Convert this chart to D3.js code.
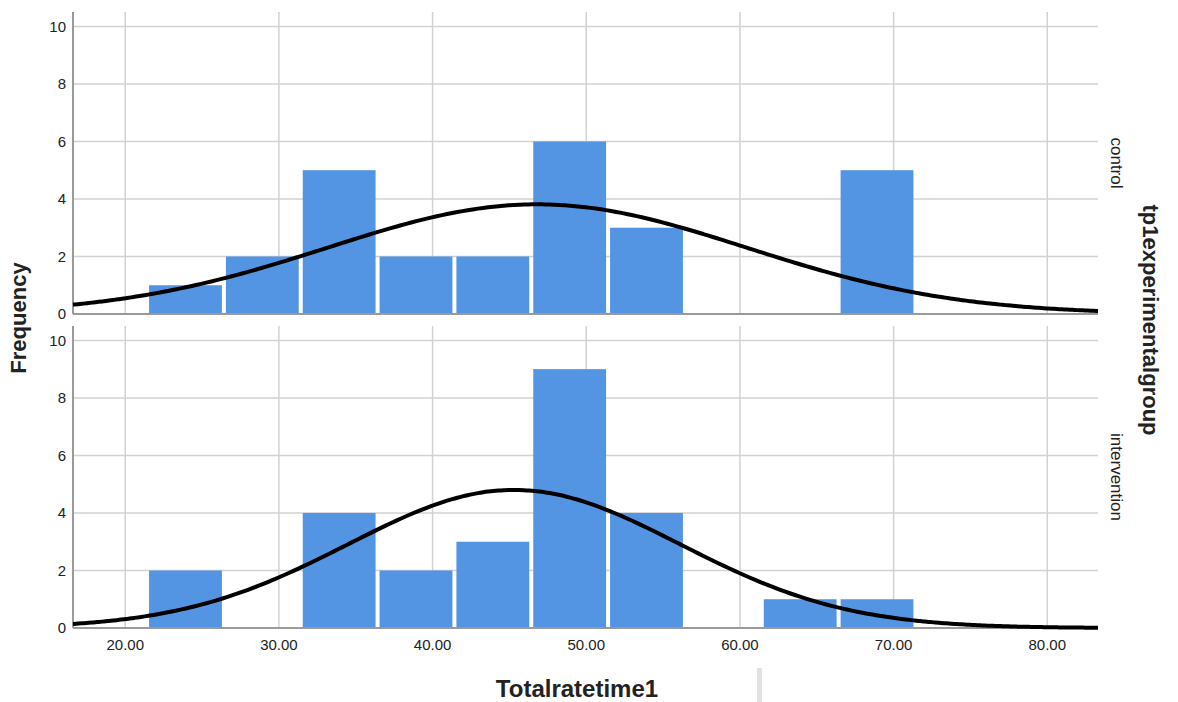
<!DOCTYPE html>
<html>
<head>
<meta charset="utf-8">
<script src="https://cdn.jsdelivr.net/npm/d3@7"></script>
<style>
  html, body { margin: 0; padding: 0; background: #ffffff; }
  svg { display: block; }
  text { font-family: Arial, "Liberation Sans", sans-serif; fill: #222; }
</style>
</head>
<body>
<svg id="chart" width="1178" height="702"></svg>
<script>
// Histogram of Totalratetime1, split by tp1experimentalgroup
const groups = ["control", "intervention"];
const binStart = 21.55;
const binWidth = 5;
const controlCounts      = [1, 2, 5, 2, 2, 6, 3, 0, 0, 5];
const interventionCounts = [2, 0, 4, 2, 3, 9, 4, 0, 1, 1];
// fitted normal curve parameters (mean, sd, N)
const controlFit      = { mean: 46.8, sd: 13.6, n: 26 };
const interventionFit = { mean: 45.3, sd: 10.8, n: 26 };
const xTicks = [20, 30, 40, 50, 60, 70, 80];
const yTicks = [0, 2, 4, 6, 8, 10];

const countsByGroup = [controlCounts, interventionCounts];
const fitsByGroup = [controlFit, interventionFit];

const svg = d3.select("#chart");
const left = 73, right = 1098;
const panels = [
  { top: 12, bottom: 314 },
  { top: 326, bottom: 628 }
];

const x = d3.scaleLinear().domain([16.6, 83.3]).range([left, right]);
const barColor = "#5395e3";
const gridColor = "#d2d2d2";
const axisColor = "#9a9a9a";

panels.forEach((p, gi) => {
  const y = d3.scaleLinear().domain([0, 10.5]).range([p.bottom, p.top]);
  const g = svg.append("g");

  // horizontal grid
  g.selectAll("line.hgrid").data(yTicks.filter(t => t > 0)).join("line")
    .attr("x1", left).attr("x2", right)
    .attr("y1", d => y(d)).attr("y2", d => y(d))
    .attr("stroke", gridColor).attr("stroke-width", 1.5);

  // vertical grid
  g.selectAll("line.vgrid").data(xTicks).join("line")
    .attr("x1", d => x(d)).attr("x2", d => x(d))
    .attr("y1", p.top).attr("y2", p.bottom)
    .attr("stroke", gridColor).attr("stroke-width", 1.5);

  // bars
  const counts = countsByGroup[gi];
  const bins = counts.map((c, i) => ({ lo: binStart + i * binWidth, hi: binStart + (i + 1) * binWidth, c }));
  g.selectAll("rect.bar").data(bins.filter(b => b.c > 0)).join("rect")
    .attr("x", d => x(d.lo))
    .attr("width", d => x(d.hi) - x(d.lo) - 4)
    .attr("y", d => y(d.c))
    .attr("height", d => y(0) - y(d.c))
    .attr("fill", barColor);

  // axes lines
  g.append("line").attr("x1", left).attr("x2", right)
    .attr("y1", p.bottom).attr("y2", p.bottom)
    .attr("stroke", axisColor).attr("stroke-width", 2);
  g.append("line").attr("x1", left).attr("x2", left)
    .attr("y1", p.top).attr("y2", p.bottom)
    .attr("stroke", axisColor).attr("stroke-width", 2);

  // y tick labels
  g.selectAll("text.ytick").data(yTicks).join("text")
    .attr("x", 66).attr("y", d => y(d))
    .attr("dy", "0.35em")
    .attr("text-anchor", "end")
    .attr("font-size", 15)
    .text(d => d);

  // normal curve
  const fit = fitsByGroup[gi];
  const scale = fit.n * binWidth / (fit.sd * Math.sqrt(2 * Math.PI));
  const xs = d3.range(0, 201).map(i => x.domain()[0] + (x.domain()[1] - x.domain()[0]) * i / 200);
  const line = d3.line()
    .x(d => x(d))
    .y(d => y(scale * Math.exp(-0.5 * Math.pow((d - fit.mean) / fit.sd, 2))))
    .curve(d3.curveBasis);
  g.append("path").datum(xs)
    .attr("d", line)
    .attr("fill", "none")
    .attr("stroke", "#000")
    .attr("stroke-width", 4);

  // panel strip label
  const cy = (p.top + p.bottom) / 2;
  g.append("text")
    .attr("transform", `translate(1109,${cy}) rotate(90)`)
    .attr("text-anchor", "middle")
    .attr("dy", "-0.1em")
    .attr("font-size", 17)
    .attr("fill", "#333")
    .text(groups[gi]);
});

// x tick labels
svg.selectAll("text.xtick").data(xTicks).join("text")
  .attr("x", d => x(d)).attr("y", 650)
  .attr("text-anchor", "middle")
  .attr("font-size", 15)
  .text(d => d3.format(".2f")(d));

// axis titles
svg.append("text")
  .attr("x", 577).attr("y", 697)
  .attr("text-anchor", "middle")
  .attr("font-size", 24).attr("font-weight", "bold")
  .attr("fill", "#111")
  .text("Totalratetime1");

svg.append("text")
  .attr("transform", "translate(26,318) rotate(-90)")
  .attr("text-anchor", "middle")
  .attr("font-size", 22).attr("font-weight", "bold")
  .attr("fill", "#111")
  .text("Frequency");

svg.append("text")
  .attr("transform", "translate(1143,320) rotate(90)")
  .attr("text-anchor", "middle")
  .attr("font-size", 22).attr("font-weight", "bold")
  .attr("fill", "#111")
  .text("tp1experimentalgroup");

// splitter handle below the plot
svg.append("rect")
  .attr("x", 757).attr("y", 668).attr("width", 5).attr("height", 34)
  .attr("fill", "#e2e2e2");
</script>
</body>
</html>
